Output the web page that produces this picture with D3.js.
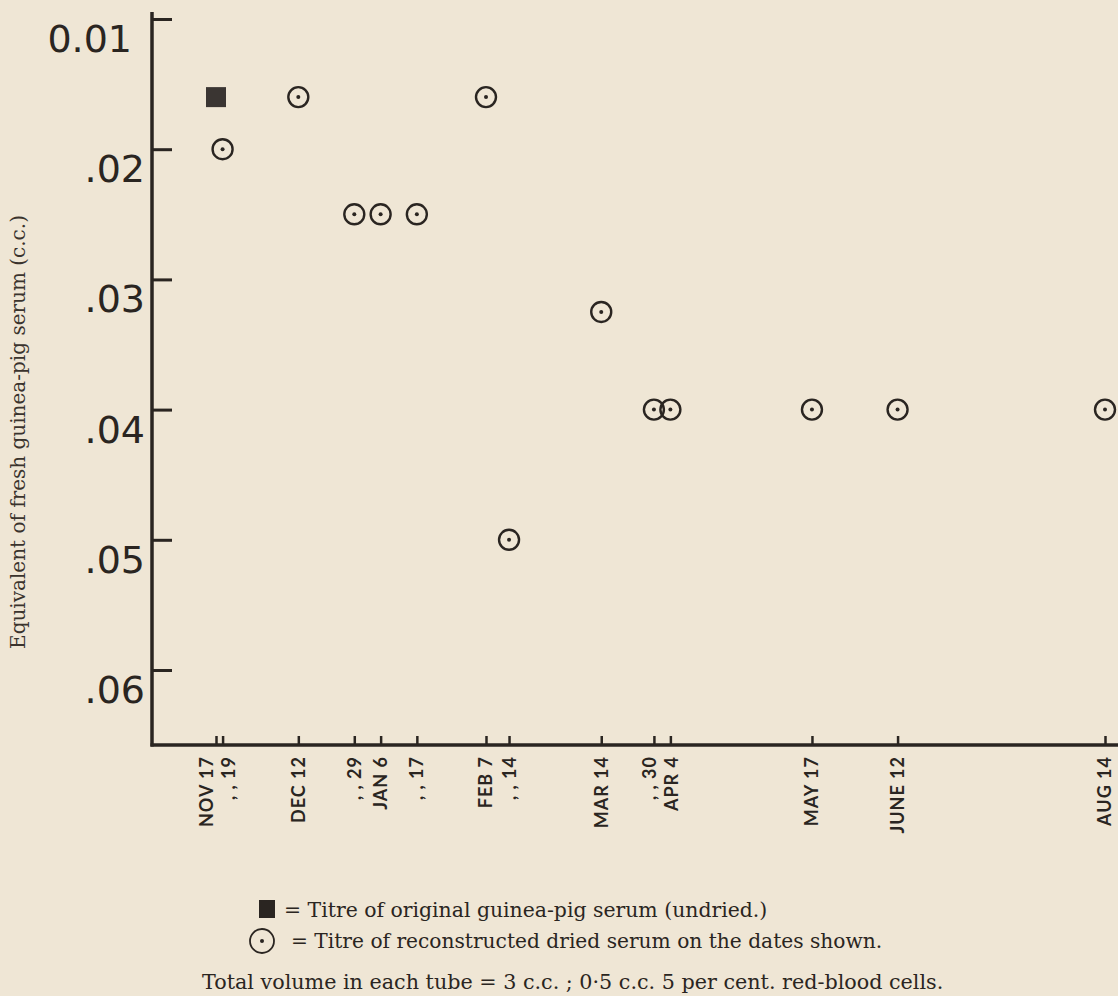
<!DOCTYPE html>
<html>
<head>
<meta charset="utf-8">
<script src="https://cdnjs.cloudflare.com/ajax/libs/d3/7.8.5/d3.min.js"></script>
<style>
  html, body { margin: 0; padding: 0; background: #efe6d5; }
  svg { display: block; }
</style>
</head>
<body>
<svg width="1118" height="996"></svg>
<script>
// dates of the tests (x axis), one tick per date
var tickDates = ["1913-11-17", "1913-11-19", "1913-12-12", "1913-12-29", "1914-01-06",
                 "1914-01-17", "1914-02-07", "1914-02-14", "1914-03-14", "1914-03-30",
                 "1914-04-04", "1914-05-17", "1914-06-12", "1914-08-14"];
var tickLabels = ["NOV 17", ", , 19", "DEC 12", ", , 29", "JAN 6", ", , 17", "FEB 7",
                  ", , 14", "MAR 14", ", , 30", "APR 4", "MAY 17", "JUNE 12", "AUG 14"];

// original serum (undried), filled square
var squareDates = ["1913-11-17"];
var squareValues = [0.016];

// reconstructed dried serum, dotted circles
var circleDates = ["1913-11-19", "1913-12-12", "1913-12-29", "1914-01-06", "1914-01-17",
                   "1914-02-07", "1914-02-14", "1914-03-14", "1914-03-30", "1914-04-04",
                   "1914-05-17", "1914-06-12", "1914-08-14"];
var circleValues = [0.02, 0.016, 0.025, 0.025, 0.025, 0.016, 0.05, 0.0325, 0.04, 0.04,
                    0.04, 0.04, 0.04];

var yTicks = [0.01, 0.02, 0.03, 0.04, 0.05, 0.06];
var yTickLabels = ["0.01", ".02", ".03", ".04", ".05", ".06"];

var ink = "#2a2521";
var serif = "DejaVu Serif";
var parse = d3.timeParse("%Y-%m-%d");

var svg = d3.select("svg");

var x = d3.scaleTime()
    .domain([parse("1913-11-17"), parse("1914-08-14")])
    .range([216, 1105]);

// the scale runs downwards: small volume at the top
var y = d3.scaleLinear()
    .domain([0.01, 0.06])
    .range([19, 670]);

var axisX = 152, axisY = 745;

// y axis
var yAxis = svg.append("g")
    .attr("transform", "translate(" + axisX + ",0)")
    .call(d3.axisRight(y).tickValues(yTicks).tickSize(20).tickFormat(""));
yAxis.select(".domain").remove();
yAxis.selectAll(".tick line").attr("stroke", ink).attr("stroke-width", 3);

svg.append("line")
    .attr("x1", axisX).attr("x2", axisX)
    .attr("y1", 12).attr("y2", axisY + 1.5)
    .attr("stroke", ink).attr("stroke-width", 3.5);

svg.selectAll(".ylab")
    .data(yTicks)
    .enter().append("text")
    .attr("class", "ylab")
    .attr("x", function(d, i) { return i === 0 ? axisX - 20 : axisX - 7; })
    .attr("y", function(d) { return y(d) + 33; })
    .attr("text-anchor", "end")
    .attr("font-family", "DejaVu Sans")
    .attr("font-size", 38)
    .attr("fill", ink)
    .text(function(d, i) { return yTickLabels[i]; });

// x axis
var xAxis = svg.append("g")
    .attr("transform", "translate(0," + axisY + ")")
    .call(d3.axisTop(x).tickValues(tickDates.map(parse)).tickSize(9).tickFormat(""));
xAxis.select(".domain").remove();
xAxis.selectAll(".tick line").attr("stroke", ink).attr("stroke-width", 2.5);

svg.append("line")
    .attr("x1", axisX - 1.5).attr("x2", 1118)
    .attr("y1", axisY).attr("y2", axisY)
    .attr("stroke", ink).attr("stroke-width", 3.5);

// spread labels that sit too close together
var labelX = tickDates.map(function(d) { return x(parse(d)); });
var minGap = 22;
for (var i = 1; i < labelX.length; i++) {
    var gap = labelX[i] - labelX[i - 1];
    if (gap < minGap) {
        var mid = (labelX[i] + labelX[i - 1]) / 2;
        labelX[i - 1] = mid - minGap / 2 - 2;
        labelX[i] = mid + minGap / 2 - 2;
    }
}

svg.selectAll(".xlab")
    .data(tickLabels)
    .enter().append("text")
    .attr("class", "xlab")
    .attr("transform", function(d, i) { return "translate(" + labelX[i] + "," + (axisY + 11) + ") rotate(-90)"; })
    .attr("dy", "0.36em")
    .attr("text-anchor", "end")
    .attr("font-family", "Lato")
    .attr("font-weight", "bold")
    .attr("font-size", 18)
    .attr("letter-spacing", 1)
    .attr("fill", ink)
    .text(function(d) { return d; });

// marks
svg.selectAll(".sq")
    .data(squareDates)
    .enter().append("rect")
    .attr("class", "sq")
    .attr("x", function(d) { return x(parse(d)) - 10; })
    .attr("y", function(d, i) { return y(squareValues[i]) - 10; })
    .attr("width", 20).attr("height", 20)
    .attr("fill", "#3a3532");

var dots = svg.selectAll(".pt")
    .data(circleDates)
    .enter().append("g")
    .attr("class", "pt")
    .attr("transform", function(d, i) { return "translate(" + x(parse(d)) + "," + y(circleValues[i]) + ")"; });
dots.append("circle").attr("r", 10).attr("fill", "none").attr("stroke", ink).attr("stroke-width", 2.4);
dots.append("circle").attr("r", 2).attr("fill", ink);

// y axis title
svg.append("text")
    .attr("transform", "translate(25,432) rotate(-90)")
    .attr("text-anchor", "middle")
    .attr("font-family", serif)
    .attr("font-size", 20)
    .attr("fill", "#3a332d")
    .text("Equivalent of fresh guinea-pig serum (c.c.)");

// legend
svg.append("rect")
    .attr("x", 259).attr("y", 900).attr("width", 16).attr("height", 18)
    .attr("fill", ink);
svg.append("text")
    .attr("x", 284).attr("y", 917)
    .attr("font-family", serif)
    .attr("font-size", 20.4)
    .attr("fill", ink)
    .text("= Titre of original guinea-pig serum (undried.)");

svg.append("circle").attr("cx", 262).attr("cy", 941).attr("r", 12)
    .attr("fill", "none").attr("stroke", ink).attr("stroke-width", 1.8);
svg.append("circle").attr("cx", 262).attr("cy", 941).attr("r", 2).attr("fill", ink);
svg.append("text")
    .attr("x", 291).attr("y", 948)
    .attr("font-family", serif)
    .attr("font-size", 20.2)
    .attr("fill", ink)
    .text("= Titre of reconstructed dried serum on the dates shown.");

svg.append("text")
    .attr("x", 202).attr("y", 989)
    .attr("font-family", serif)
    .attr("font-size", 20.7)
    .attr("fill", ink)
    .text("Total volume in each tube = 3 c.c. ; 0\u00b75 c.c. 5 per cent. red-blood cells.");
</script>
</body>
</html>
